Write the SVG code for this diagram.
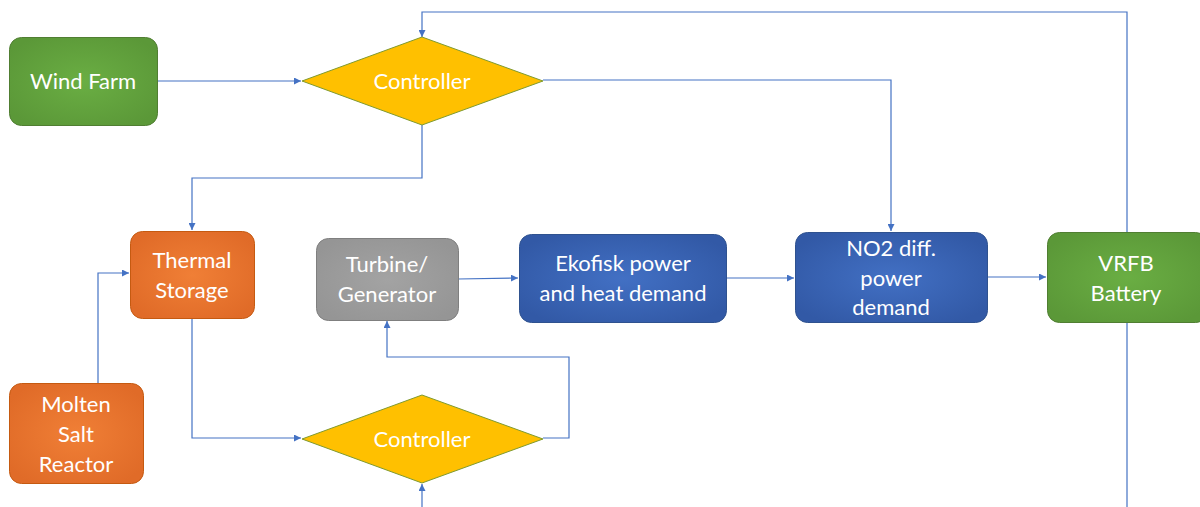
<svg xmlns="http://www.w3.org/2000/svg" width="1200" height="507" viewBox="0 0 1200 507">
<style>
text{font-family:Lato,"Open Sans","Liberation Sans",sans-serif;font-size:22px;fill:#fff;text-anchor:middle;dominant-baseline:central}
.c{fill:none;stroke:#4472c4;stroke-width:1.2}
.green{fill:url(#gG);stroke:#507e32;stroke-width:1}
.orange{fill:url(#gO);stroke:#c55a11;stroke-width:1}
.gray{fill:url(#gGr);stroke:#7f7f7f;stroke-width:1}
.blue{fill:url(#gB);stroke:#2f528f;stroke-width:1}
.dia{fill:#ffc000;stroke:#7f9a2f;stroke-width:1}
</style>
<defs>
<radialGradient id="gG" cx="50%" cy="50%" r="60%"><stop offset="0" stop-color="#6aae43"/><stop offset="1" stop-color="#5b9838"/></radialGradient>
<radialGradient id="gO" cx="50%" cy="50%" r="60%"><stop offset="0" stop-color="#f07f36"/><stop offset="1" stop-color="#e06b28"/></radialGradient>
<radialGradient id="gGr" cx="50%" cy="50%" r="60%"><stop offset="0" stop-color="#a3a3a3"/><stop offset="1" stop-color="#959595"/></radialGradient>
<radialGradient id="gB" cx="50%" cy="50%" r="60%"><stop offset="0" stop-color="#4270c4"/><stop offset="1" stop-color="#3259a6"/></radialGradient>
<marker id="ah" viewBox="0 0 10 10" refX="10" refY="5" markerWidth="7" markerHeight="7" markerUnits="userSpaceOnUse" orient="auto"><path d="M0,0 L10,5 L0,10 z" fill="#4472c4"/></marker>
</defs>
<g id="connectors">
<path class="c" d="M1127,507 V12 H422 V37" marker-end="url(#ah)"/>
<path class="c" d="M157,81 H301" marker-end="url(#ah)"/>
<path class="c" d="M543,80 H891 V231" marker-end="url(#ah)"/>
<path class="c" d="M422,125 V178 H192 V230" marker-end="url(#ah)"/>
<path class="c" d="M98,383 V273 H129" marker-end="url(#ah)"/>
<path class="c" d="M192,318 V438 H301" marker-end="url(#ah)"/>
<path class="c" d="M543,438 H569 V357 H387 V321" marker-end="url(#ah)"/>
<path class="c" d="M422,507 V484" marker-end="url(#ah)"/>
<path class="c" d="M458,279 L518,278" marker-end="url(#ah)"/>
<path class="c" d="M726,278 L794,278" marker-end="url(#ah)"/>
<path class="c" d="M987,277 H1046" marker-end="url(#ah)"/>
</g>
<g id="wind-farm"><rect class="green" x="9.5" y="37.5" width="148" height="88" rx="12"/><text x="83" y="80">Wind Farm</text></g>
<g id="controller-top"><path class="dia" d="M302,81 L422,37 L543,81 L422,125 z"/><text x="422" y="80">Controller</text></g>
<g id="thermal-storage"><rect class="orange" x="130.5" y="231.5" width="124" height="87" rx="12"/><text x="192" y="259">Thermal</text><text x="192" y="289">Storage</text></g>
<g id="turbine-generator"><rect class="gray" x="316.5" y="238.5" width="142" height="82" rx="12"/><text x="387" y="263">Turbine/</text><text x="387" y="293">Generator</text></g>
<g id="ekofisk"><rect class="blue" x="519.5" y="234.5" width="207" height="88" rx="12"/><text x="623" y="262">Ekofisk power</text><text x="623" y="292">and heat demand</text></g>
<g id="no2"><rect class="blue" x="795.5" y="232.5" width="192" height="90" rx="12"/><text x="891" y="247">NO2 diff.</text><text x="891" y="277">power</text><text x="891" y="306">demand</text></g>
<g id="vrfb"><rect class="green" x="1047.5" y="232.5" width="160" height="90" rx="12"/><text x="1126" y="262">VRFB</text><text x="1126" y="292">Battery</text></g>
<g id="molten-salt"><rect class="orange" x="9.5" y="383.5" width="134" height="100" rx="12"/><text x="76" y="403">Molten</text><text x="76" y="433">Salt</text><text x="76" y="463">Reactor</text></g>
<g id="controller-bottom"><path class="dia" d="M302,439 L422,395 L543,439 L422,483 z"/><text x="422" y="438">Controller</text></g>
</svg>
